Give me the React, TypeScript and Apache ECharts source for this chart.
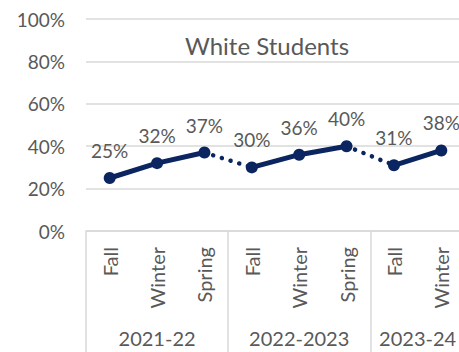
import React, { useEffect, useRef } from "react";
import * as echarts from "echarts";

const categories = ["Fall", "Winter", "Spring", "Fall", "Winter", "Spring", "Fall", "Winter"];
const values = [25, 32, 37, 30, 36, 40, 31, 38];
const years = ["2021-22", "2022-2023", "2023-24"];
const groupSizes = [3, 3, 2];
const yTicks = [0, 20, 40, 60, 80, 100];
const title = "White Students";

const NAVY = "#0b2560";
const GREY = "#595959";
const LINE = "#d9d9d9";
const FONT = "Lato, 'Noto Sans', sans-serif";

export default function App() {
  const ref = useRef<HTMLDivElement>(null);

  useEffect(() => {
    if (!ref.current) return;
    const chart = echarts.init(ref.current, undefined, { renderer: "svg" });

    // solid series per year group
    const series: any[] = [];
    let start = 0;
    const groupStarts: number[] = [];
    groupSizes.forEach((size) => {
      groupStarts.push(start);
      const data = values.map((v, i) => (i >= start && i < start + size ? v : null));
      series.push({
        type: "line",
        data,
        xAxisIndex: 0,
        symbol: "circle",
        symbolSize: 12,
        lineStyle: { color: NAVY, width: 5 },
        itemStyle: { color: NAVY },
        connectNulls: false,
        label: {
          show: true,
          position: "top",
          distance: 12,
          formatter: (p: any) => p.value + "%",
          color: GREY,
          fontSize: 19,
          fontFamily: FONT,
        },
        z: 3,
      });
      start += size;
    });
    // dotted connectors between groups
    for (let g = 1; g < groupSizes.length; g++) {
      const a = groupStarts[g] - 1;
      const b = groupStarts[g];
      const data = values.map((v, i) => (i === a || i === b ? v : null));
      series.push({
        type: "line",
        data,
        xAxisIndex: 0,
        symbol: "none",
        lineStyle: { color: NAVY, width: 4.5, type: [0.1, 9], cap: "round" },
        z: 2,
      });
    }

    // group axis: half-slot positions, boundaryGap false
    const totalHalf = categories.length * 2;
    const groupAxisData: string[] = new Array(totalHalf + 1).fill("");
    const boundaries: number[] = [0];
    let h = 0;
    groupSizes.forEach((size, g) => {
      groupAxisData[h + size] = years[g];
      h += size * 2;
      boundaries.push(h);
    });

    chart.setOption({
      animation: false,
      title: {
        text: title,
        left: 262,
        textAlign: "center",
        top: 28,
        textStyle: { color: GREY, fontSize: 24, fontWeight: "normal", fontFamily: FONT },
      },
      grid: { left: 86, top: 19, width: 379, height: 212 },
      xAxis: [
        {
          type: "category",
          data: categories,
          position: "bottom",
          axisLine: { show: true, lineStyle: { color: LINE, width: 1.5 } },
          axisTick: { show: false },
          axisLabel: {
            rotate: 90,
            margin: 16,
            color: GREY,
            fontSize: 20,
            fontFamily: FONT,
          },
        },
        {
          type: "category",
          data: groupAxisData,
          boundaryGap: false,
          position: "bottom",
          axisLine: { show: false },
          axisTick: {
            show: true,
            length: 130,
            interval: (i: number) => boundaries.indexOf(i) >= 0,
            lineStyle: { color: LINE, width: 1.5 },
          },
          axisLabel: {
            interval: (i: number, v: string) => v !== "",
            margin: 97,
            color: GREY,
            fontSize: 20,
            fontFamily: FONT,
          },
          splitLine: { show: false },
        },
      ],
      yAxis: {
        type: "value",
        min: 0,
        max: 100,
        interval: 20,
        axisLine: { show: false },
        axisTick: { show: false },
        splitLine: { lineStyle: { color: LINE, width: 1.5 } },
        axisLabel: {
          margin: 21,
          color: GREY,
          fontSize: 19,
          fontFamily: FONT,
          formatter: (v: number) => (yTicks.indexOf(v) >= 0 ? v + "%" : ""),
        },
      },
      series,
    });

    return () => chart.dispose();
  }, []);

  return (
    <div style={{ position: "absolute", left: 0, top: 0, width: 459, height: 352, overflow: "hidden", background: "#fff" }}>
      <div ref={ref} style={{ width: 480, height: 352 }} />
    </div>
  );
}
